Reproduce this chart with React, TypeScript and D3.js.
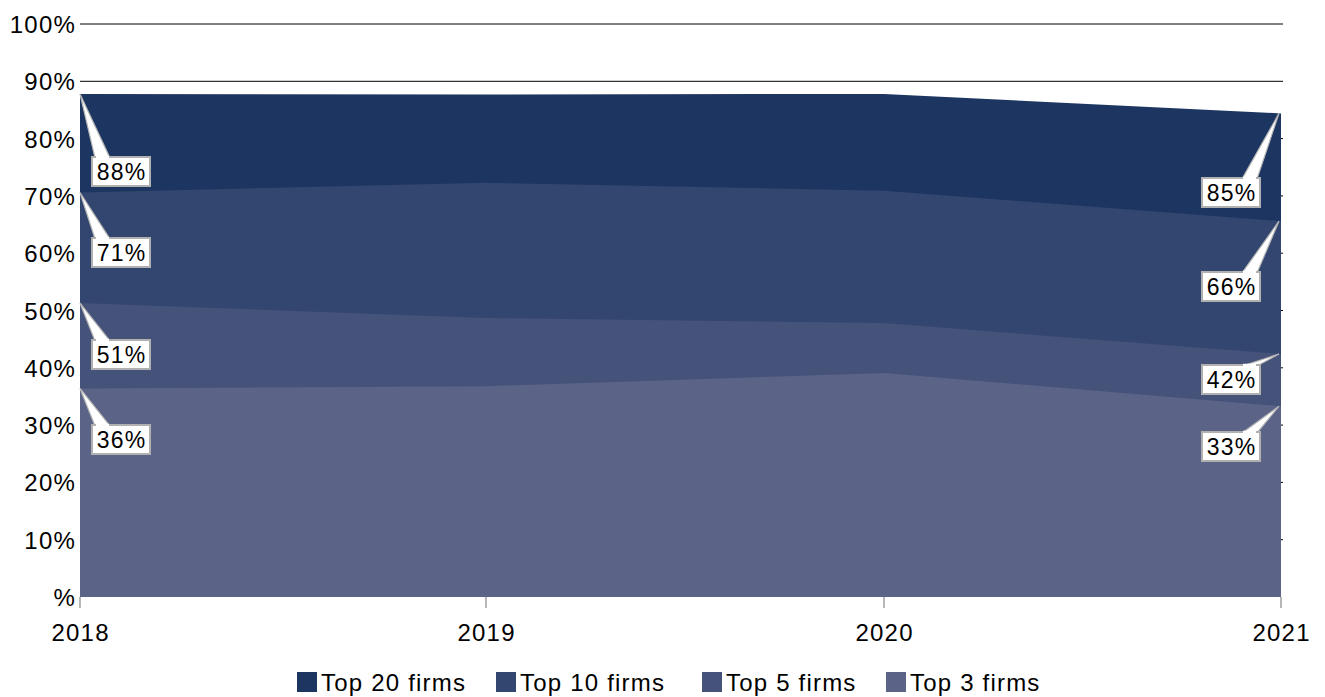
import React from "react";
import * as d3 from "d3";

const years = ["2018", "2019", "2020", "2021"];
const seriesNames = ["Top 20 firms", "Top 10 firms", "Top 5 firms", "Top 3 firms"];
const top20 = [87.8, 87.7, 87.8, 84.4];
const top10 = [70.6, 72.3, 70.9, 65.6];
const top5 = [51.3, 48.7, 47.8, 42.4];
const top3 = [36.4, 36.8, 39.1, 33.3];
const colors = ["#1c3661", "#32466f", "#45527a", "#5b6387"];
const leftLabels = ["88%", "71%", "51%", "36%"];
const rightLabels = ["85%", "66%", "42%", "33%"];
const yTicks = [0, 10, 20, 30, 40, 50, 60, 70, 80, 90, 100];

const W = 1325, H = 697;
const FONT = "'Liberation Sans', Arial, Helvetica, sans-serif";

export default function App() {
  const x = d3.scaleOrdinal<string, number>().domain(years).range([80, 486, 884, 1281]);
  const y = d3.scaleLinear().domain([0, 100]).range([597, 24]);
  const all = [top20, top10, top5, top3];
  const area = d3
    .area<number>()
    .x((_, i) => x(years[i]))
    .y0(y(0))
    .y1((d) => y(d))
    .curve(d3.curveLinear);

  const leftBoxTops = [157, 238, 340, 425];
  const rightBoxTops = [178, 272, 365, 432];
  const boxW = 58, boxH = 29;

  const callout = (px: number, py: number, bx: number, by: number, label: string, side: "left" | "right", key: string) => {
    const b1 = side === "left" ? bx + 3 : bx + boxW - 18;
    const b2 = side === "left" ? bx + 18 : bx + boxW - 3;
    return (
      <g key={key}>
        <polygon points={`${px},${py} ${b1},${by + 1} ${b2},${by + 1}`} fill="#ffffff" stroke="#b5b5b5" strokeWidth={1.2} />
        <rect x={bx} y={by} width={boxW} height={boxH} fill="#ffffff" stroke="#b0b0b0" strokeWidth={2} />
        <line x1={b1 + 1} y1={by} x2={b2 - 1} y2={by} stroke="#ffffff" strokeWidth={2.5} />
        <text x={bx + boxW / 2 + 0.5} y={by + boxH / 2 + 8} textAnchor="middle" fontSize={23} letterSpacing={1.2} fontFamily={FONT} fill="#000">
          {label}
        </text>
      </g>
    );
  };

  return (
    <svg width={W} height={H} style={{ position: "absolute", left: 0, top: 0, background: "#fff" }}>
      {yTicks.filter((t) => t > 0).map((t) => (
        <line key={t} x1={80} x2={1283} y1={y(t)} y2={y(t)} stroke="#000" strokeWidth={1} />
      ))}
      {all.map((s, i) => (
        <path key={i} d={area(s) || ""} fill={colors[i]} />
      ))}
      {yTicks.map((t) => (
        <text key={t} x={76} y={y(t) + 9} textAnchor="end" fontSize={24} letterSpacing={1.2} fontFamily={FONT} fill="#000">
          {t === 0 ? "%" : `${t}%`}
        </text>
      ))}
      {years.map((yr) => (
        <g key={yr}>
          <line x1={x(yr)} x2={x(yr)} y1={597} y2={608} stroke="#888" strokeWidth={1.2} />
          <text x={x(yr) + 0.6} y={641} textAnchor="middle" fontSize={24} letterSpacing={1.2} fontFamily={FONT} fill="#000">
            {yr}
          </text>
        </g>
      ))}
      {all.map((s, i) =>
        callout(x(years[0]), y(s[0]), 92, leftBoxTops[i], leftLabels[i], "left", "l" + i)
      )}
      {all.map((s, i) =>
        callout(x(years[3]) - 2, y(s[3]), 1202, rightBoxTops[i], rightLabels[i], "right", "r" + i)
      )}
      {seriesNames.map((n, i) => {
        const lx = [297, 496, 702, 886][i];
        return (
          <g key={n}>
            <rect x={lx} y={672} width={20} height={20} fill={colors[i]} />
            <text x={lx + 24} y={691} fontSize={24} letterSpacing={1.2} fontFamily={FONT} fill="#000">
              {n}
            </text>
          </g>
        );
      })}
    </svg>
  );
}
